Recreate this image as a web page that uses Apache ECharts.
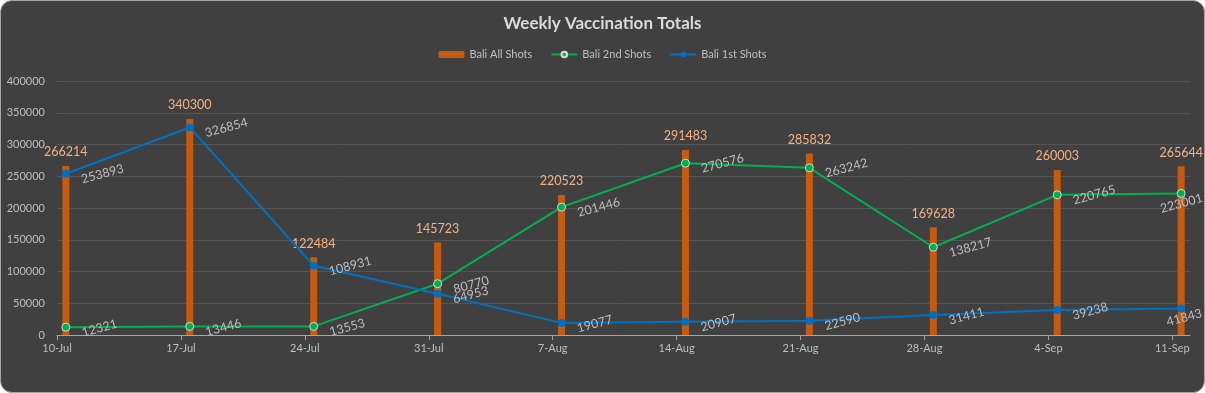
<!DOCTYPE html>
<html>
<head>
<meta charset="utf-8">
<script src="https://cdn.jsdelivr.net/npm/echarts@6/dist/echarts.min.js"></script>
<style>
html,body{margin:0;padding:0;background:#ffffff;}
#wrap{position:absolute;left:0;top:0;width:1203px;height:391px;background:#404040;border:1px solid #a6a6a6;border-radius:12px;overflow:hidden;}
#chart{position:absolute;left:-1px;top:-1px;width:1205px;height:393px;}
</style>
</head>
<body>
<div id="wrap"><div id="chart"></div></div>
<script>
// Week labels and their day offsets from 10-Jul
const categories = ['10-Jul','17-Jul','24-Jul','31-Jul','7-Aug','14-Aug','21-Aug','28-Aug','4-Sep','11-Sep'];
const dayOffsets = [0,7,14,21,28,35,42,49,56,63];
const allShots = [266214,340300,122484,145723,220523,291483,285832,169628,260003,265644];
const secondShots = [12321,13446,13553,80770,201446,270576,263242,138217,220765,223001];
const firstShots = [253893,326854,108931,64953,19077,20907,22590,31411,39238,41843];
const yMax = 400000;
const yInterval = 50000;

const FONT = 'Lato';
const lineLabel = {
  show: true, position: 'right', distance: 10, rotate: 15, offset: [0, 6],
  color: '#bfbfbf', fontSize: 12.5, fontFamily: FONT
};

function lineData(vals, lastShift) {
  return dayOffsets.map((d, i) => {
    const item = { value: [d + 0.5, vals[i]] };
    if (i === vals.length - 1) item.label = { offset: [lastShift, 6] };
    return item;
  });
}

const chart = echarts.init(document.getElementById('chart'), null, {renderer: 'canvas'});
chart.setOption({
  backgroundColor: 'transparent',
  animation: false,
  title: {
    text: 'Weekly Vaccination Totals', left: 'center', top: 10,
    textStyle: { color: '#d9d9d9', fontSize: 17, fontWeight: 'bold', fontFamily: FONT }
  },
  legend: {
    top: 44, left: 'center', itemWidth: 26, itemHeight: 7, itemGap: 18,
    textStyle: { color: '#bfbfbf', fontSize: 11, fontFamily: FONT },
    data: ['Bali All Shots', 'Bali 2nd Shots', 'Bali 1st Shots']
  },
  grid: { left: 57, right: 15, top: 81, bottom: 58 },
  xAxis: {
    type: 'value', min: 0, max: 64,
    axisLine: { show: true, lineStyle: { color: '#a6a6a6', width: 1 } },
    axisTick: { show: true, length: 5, customValues: dayOffsets, lineStyle: { color: '#a6a6a6' } },
    axisLabel: {
      customValues: dayOffsets, color: '#bfbfbf', fontSize: 11, fontFamily: FONT, margin: 8,
      formatter: v => categories[dayOffsets.indexOf(v)] || ''
    },
    splitLine: { show: false }
  },
  yAxis: {
    type: 'value', min: 0, max: yMax, interval: yInterval,
    axisLine: { show: false }, axisTick: { show: false },
    axisLabel: { color: '#bfbfbf', fontSize: 11, fontFamily: FONT, margin: 12, formatter: v => String(v) },
    splitLine: { lineStyle: { color: '#555555', width: 1 } }
  },
  series: [
    {
      name: 'Bali All Shots', type: 'bar', barWidth: 7,
      itemStyle: { color: '#c55a11' },
      data: dayOffsets.map((d, i) => [d + 0.5, allShots[i]]),
      label: { show: true, position: 'top', distance: 7, color: '#f4b183', fontSize: 12.5, fontFamily: FONT,
               formatter: p => p.value[1] },
      z: 2
    },
    {
      name: 'Bali 2nd Shots', type: 'line', symbol: 'circle', symbolSize: 8,
      lineStyle: { color: '#00b050', width: 2 },
      itemStyle: { color: '#00b050', borderColor: '#d9d9d9', borderWidth: 1 },
      data: lineData(secondShots, -38),
      label: Object.assign({}, lineLabel, { formatter: p => p.value[1] }),
      z: 3
    },
    {
      name: 'Bali 1st Shots', type: 'line', symbol: 'circle', symbolSize: 8,
      lineStyle: { color: '#0070c0', width: 2 },
      itemStyle: { color: '#0070c0' },
      data: lineData(firstShots, -31),
      label: Object.assign({}, lineLabel, { formatter: p => p.value[1] }),
      z: 4
    }
  ]
});
</script>
</body>
</html>
